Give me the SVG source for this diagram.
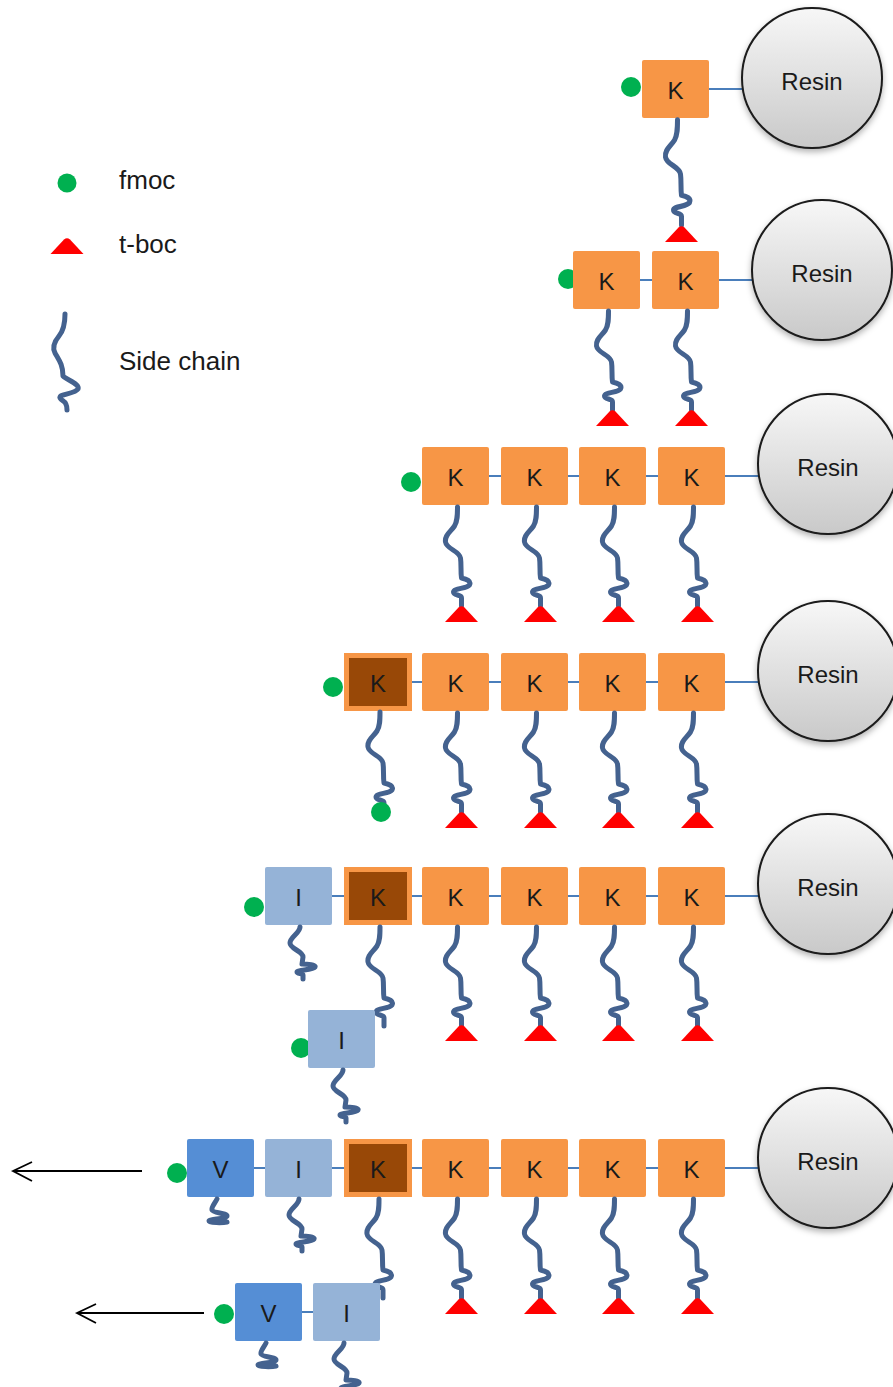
<svg xmlns="http://www.w3.org/2000/svg" xmlns:xlink="http://www.w3.org/1999/xlink" width="893" height="1387" viewBox="0 0 893 1387">
<style>
.k{fill:#F79646;}
.kb{fill:#984807;stroke:#F79646;stroke-width:5;}
.i{fill:#95B3D7;}
.v{fill:#558ED5;}
.lbl{font-family:"Liberation Sans",Arial,sans-serif;font-size:24px;fill:#1a1a1a;text-anchor:middle;}
.leg{font-family:"Liberation Sans",Arial,sans-serif;font-size:26px;fill:#1a1a1a;}
.ch{fill:none;stroke:#44628F;stroke-width:5;stroke-linecap:round;stroke-linejoin:round;}
.fm{fill:#00B050;}
.tb{fill:#FF0000;}
.res{fill:url(#rg);stroke:#1a1a1a;stroke-width:2;filter:url(#sh);}
.cn{stroke:#4A7EBB;stroke-width:2;fill:none;}
.ar{stroke:#000;stroke-width:1.8;fill:none;}
</style>
<defs>
<linearGradient id="rg" x1="0" y1="0" x2="0" y2="1">
<stop offset="0" stop-color="#F7F7F7"/>
<stop offset="1" stop-color="#C9C9C9"/>
</linearGradient>
<filter id="sh" x="-20%" y="-20%" width="140%" height="150%">
<feDropShadow dx="0" dy="3" stdDeviation="3" flood-color="#000" flood-opacity="0.3"/>
</filter>
<path id="longc" class="ch" d="M0,0 C0,8 0,14 -3,19 C-7,25 -13,28 -12,35 C-11,42 2,44 3,51 C4,58 3,64 4,71 C9,72 14,74 12,78 C9,82 -4,81 -4,85 C-4,89 4,87 4,91 L4,99"/>
<path id="shortc" class="ch" d="M0,0 C0,6 -10,10 -10,16 C-10,22 3,24 3,30 L2,37 C8,37 16,38 15,40 C13,43 -3,43 -3,45 C-3,47 3,46 3,48 L3,52"/>
<path id="tinyc" class="ch" d="M0,0 C-2,4 -6,8 -5,11 C-4,14 10,14 10,17 C10,20 -8,20 -8,22 C-8,24 6,24 10,23"/>
<path id="cap" class="tb" d="M-16.5,16 L-3,1.5 Q0,-1 3,1.5 L16.5,16 Z"/>
</defs>

<g id="legend">
<circle class="fm" cx="67" cy="183" r="9.5"/>
<text class="leg" x="119" y="189">fmoc</text>
<use xlink:href="#cap" x="67" y="238"/>
<text class="leg" x="119" y="253">t-boc</text>
<path class="ch" d="M65,314 C65,322 64,330 59,336 C54,342 52,347 55,353 C59,360 63,365 63,376 C67,380 80,384 78,389 C75,394 58,394 60,398 C62,402 67,400 67,410"/>
<text class="leg" x="119" y="370">Side chain</text>
</g>

<g id="connectors">
<line class="cn" x1="709" y1="89" x2="742" y2="89"/>
<line class="cn" x1="640" y1="280" x2="652" y2="280"/>
<line class="cn" x1="719" y1="280" x2="752" y2="280"/>
<line class="cn" x1="489" y1="476" x2="501" y2="476"/>
<line class="cn" x1="568" y1="476" x2="579" y2="476"/>
<line class="cn" x1="646" y1="476" x2="658" y2="476"/>
<line class="cn" x1="725" y1="476" x2="758" y2="476"/>
<line class="cn" x1="412" y1="682" x2="422" y2="682"/>
<line class="cn" x1="489" y1="682" x2="501" y2="682"/>
<line class="cn" x1="568" y1="682" x2="579" y2="682"/>
<line class="cn" x1="646" y1="682" x2="658" y2="682"/>
<line class="cn" x1="725" y1="682" x2="758" y2="682"/>
<line class="cn" x1="332" y1="896" x2="344" y2="896"/>
<line class="cn" x1="412" y1="896" x2="422" y2="896"/>
<line class="cn" x1="489" y1="896" x2="501" y2="896"/>
<line class="cn" x1="568" y1="896" x2="579" y2="896"/>
<line class="cn" x1="646" y1="896" x2="658" y2="896"/>
<line class="cn" x1="725" y1="896" x2="758" y2="896"/>
<line class="cn" x1="254" y1="1168" x2="265" y2="1168"/>
<line class="cn" x1="332" y1="1168" x2="344" y2="1168"/>
<line class="cn" x1="412" y1="1168" x2="422" y2="1168"/>
<line class="cn" x1="489" y1="1168" x2="501" y2="1168"/>
<line class="cn" x1="568" y1="1168" x2="579" y2="1168"/>
<line class="cn" x1="646" y1="1168" x2="658" y2="1168"/>
<line class="cn" x1="725" y1="1168" x2="758" y2="1168"/>
<line class="cn" x1="302" y1="1312" x2="313" y2="1312"/>
<path class="ar" d="M142,1171 L13,1171 M32,1162 L13,1171 L32,1181"/>
<path class="ar" d="M204,1313 L77,1313 M96,1304 L77,1313 L96,1323"/>
</g>

<!-- Resin nodes -->
<g id="resin1"><circle class="res" cx="812" cy="78" r="70"/><text class="lbl" x="812" y="90">Resin</text></g>
<g id="resin2"><circle class="res" cx="822" cy="270" r="70"/><text class="lbl" x="822" y="282">Resin</text></g>
<g id="resin3"><circle class="res" cx="828" cy="464" r="70"/><text class="lbl" x="828" y="476">Resin</text></g>
<g id="resin4"><circle class="res" cx="828" cy="671" r="70"/><text class="lbl" x="828" y="683">Resin</text></g>
<g id="resin5"><circle class="res" cx="828" cy="884" r="70"/><text class="lbl" x="828" y="896">Resin</text></g>
<g id="resin6"><circle class="res" cx="828" cy="1158" r="70"/><text class="lbl" x="828" y="1170">Resin</text></g>

<!-- Row 1 -->
<g id="r1-fmoc"><circle class="fm" cx="631" cy="87" r="10"/></g>
<g id="r1-k1"><rect class="k" x="642" y="60" width="67" height="58" rx="2"/><text class="lbl" x="675.5" y="99">K</text>
<use xlink:href="#longc" transform="translate(677.5,120) scale(1,1.06)"/><use xlink:href="#cap" x="681.5" y="226"/></g>

<!-- Row 2 -->
<g id="r2-fmoc"><circle class="fm" cx="568" cy="279" r="10"/></g>
<g id="r2-k1"><rect class="k" x="573" y="251" width="67" height="58" rx="2"/><text class="lbl" x="606.5" y="290">K</text>
<use xlink:href="#longc" x="608.5" y="311"/><use xlink:href="#cap" x="612.5" y="410"/></g>
<g id="r2-k2"><rect class="k" x="652" y="251" width="67" height="58" rx="2"/><text class="lbl" x="685.5" y="290">K</text>
<use xlink:href="#longc" x="687.5" y="311"/><use xlink:href="#cap" x="691.5" y="410"/></g>

<!-- Row 3 -->
<g id="r3-fmoc"><circle class="fm" cx="411" cy="482" r="10"/></g>
<g id="r3-k1"><rect class="k" x="422" y="447" width="67" height="58" rx="2"/><text class="lbl" x="455.5" y="486">K</text>
<use xlink:href="#longc" x="457.5" y="507"/><use xlink:href="#cap" x="461.5" y="606"/></g>
<g id="r3-k2"><rect class="k" x="501" y="447" width="67" height="58" rx="2"/><text class="lbl" x="534.5" y="486">K</text>
<use xlink:href="#longc" x="536.5" y="507"/><use xlink:href="#cap" x="540.5" y="606"/></g>
<g id="r3-k3"><rect class="k" x="579" y="447" width="67" height="58" rx="2"/><text class="lbl" x="612.5" y="486">K</text>
<use xlink:href="#longc" x="614.5" y="507"/><use xlink:href="#cap" x="618.5" y="606"/></g>
<g id="r3-k4"><rect class="k" x="658" y="447" width="67" height="58" rx="2"/><text class="lbl" x="691.5" y="486">K</text>
<use xlink:href="#longc" x="693.5" y="507"/><use xlink:href="#cap" x="697.5" y="606"/></g>

<!-- Row 4 -->
<g id="r4-fmoc"><circle class="fm" cx="333" cy="687" r="10"/></g>
<g id="r4-kb"><rect class="kb" x="346.5" y="655.5" width="63" height="53"/><text class="lbl" x="378" y="692">K</text>
<use xlink:href="#longc" x="380" y="712"/><circle class="fm" cx="381" cy="812" r="10"/></g>
<g id="r4-k1"><rect class="k" x="422" y="653" width="67" height="58" rx="2"/><text class="lbl" x="455.5" y="692">K</text>
<use xlink:href="#longc" x="457.5" y="713"/><use xlink:href="#cap" x="461.5" y="812"/></g>
<g id="r4-k2"><rect class="k" x="501" y="653" width="67" height="58" rx="2"/><text class="lbl" x="534.5" y="692">K</text>
<use xlink:href="#longc" x="536.5" y="713"/><use xlink:href="#cap" x="540.5" y="812"/></g>
<g id="r4-k3"><rect class="k" x="579" y="653" width="67" height="58" rx="2"/><text class="lbl" x="612.5" y="692">K</text>
<use xlink:href="#longc" x="614.5" y="713"/><use xlink:href="#cap" x="618.5" y="812"/></g>
<g id="r4-k4"><rect class="k" x="658" y="653" width="67" height="58" rx="2"/><text class="lbl" x="691.5" y="692">K</text>
<use xlink:href="#longc" x="693.5" y="713"/><use xlink:href="#cap" x="697.5" y="812"/></g>

<!-- Row 5 -->
<g id="r5-fmoc"><circle class="fm" cx="254" cy="907" r="10"/></g>
<g id="r5-i"><rect class="i" x="265" y="867" width="67" height="58" rx="2"/><text class="lbl" x="298.5" y="906">I</text>
<use xlink:href="#shortc" x="300" y="927"/></g>
<g id="r5-kb"><rect class="kb" x="346.5" y="869.5" width="63" height="53"/><text class="lbl" x="378" y="906">K</text>
<use xlink:href="#longc" x="380" y="927"/></g>
<g id="r5-k1"><rect class="k" x="422" y="867" width="67" height="58" rx="2"/><text class="lbl" x="455.5" y="906">K</text>
<use xlink:href="#longc" x="457.5" y="927"/><use xlink:href="#cap" x="461.5" y="1025"/></g>
<g id="r5-k2"><rect class="k" x="501" y="867" width="67" height="58" rx="2"/><text class="lbl" x="534.5" y="906">K</text>
<use xlink:href="#longc" x="536.5" y="927"/><use xlink:href="#cap" x="540.5" y="1025"/></g>
<g id="r5-k3"><rect class="k" x="579" y="867" width="67" height="58" rx="2"/><text class="lbl" x="612.5" y="906">K</text>
<use xlink:href="#longc" x="614.5" y="927"/><use xlink:href="#cap" x="618.5" y="1025"/></g>
<g id="r5-k4"><rect class="k" x="658" y="867" width="67" height="58" rx="2"/><text class="lbl" x="691.5" y="906">K</text>
<use xlink:href="#longc" x="693.5" y="927"/><use xlink:href="#cap" x="697.5" y="1025"/></g>

<!-- Free I -->
<g id="free-fmoc"><circle class="fm" cx="301" cy="1048" r="10"/></g>
<g id="free-i"><rect class="i" x="308" y="1010" width="67" height="58" rx="2"/><text class="lbl" x="341.5" y="1049">I</text>
<use xlink:href="#shortc" x="343" y="1070"/></g>

<!-- Row 6 -->
<g id="r6-fmoc"><circle class="fm" cx="177" cy="1173" r="10"/></g>
<g id="r6-v"><rect class="v" x="187" y="1139" width="67" height="58" rx="2"/><text class="lbl" x="220.5" y="1178">V</text>
<use xlink:href="#tinyc" x="217" y="1199"/></g>
<g id="r6-i"><rect class="i" x="265" y="1139" width="67" height="58" rx="2"/><text class="lbl" x="298.5" y="1178">I</text>
<use xlink:href="#shortc" x="299" y="1199"/></g>
<g id="r6-kb"><rect class="kb" x="346.5" y="1141.5" width="63" height="53"/><text class="lbl" x="378" y="1178">K</text>
<use xlink:href="#longc" x="379" y="1199"/></g>
<g id="r6-k1"><rect class="k" x="422" y="1139" width="67" height="58" rx="2"/><text class="lbl" x="455.5" y="1178">K</text>
<use xlink:href="#longc" x="457.5" y="1199"/><use xlink:href="#cap" x="461.5" y="1298"/></g>
<g id="r6-k2"><rect class="k" x="501" y="1139" width="67" height="58" rx="2"/><text class="lbl" x="534.5" y="1178">K</text>
<use xlink:href="#longc" x="536.5" y="1199"/><use xlink:href="#cap" x="540.5" y="1298"/></g>
<g id="r6-k3"><rect class="k" x="579" y="1139" width="67" height="58" rx="2"/><text class="lbl" x="612.5" y="1178">K</text>
<use xlink:href="#longc" x="614.5" y="1199"/><use xlink:href="#cap" x="618.5" y="1298"/></g>
<g id="r6-k4"><rect class="k" x="658" y="1139" width="67" height="58" rx="2"/><text class="lbl" x="691.5" y="1178">K</text>
<use xlink:href="#longc" x="693.5" y="1199"/><use xlink:href="#cap" x="697.5" y="1298"/></g>

<!-- Free V-I -->
<g id="free2-fmoc"><circle class="fm" cx="224" cy="1314" r="10"/></g>
<g id="free2-v"><rect class="v" x="235" y="1283" width="67" height="58" rx="2"/><text class="lbl" x="268.5" y="1322">V</text>
<use xlink:href="#tinyc" x="266" y="1343"/></g>
<g id="free2-i"><rect class="i" x="313" y="1283" width="67" height="58" rx="2"/><text class="lbl" x="346.5" y="1322">I</text>
<use xlink:href="#shortc" x="344" y="1343"/></g>
</svg>
